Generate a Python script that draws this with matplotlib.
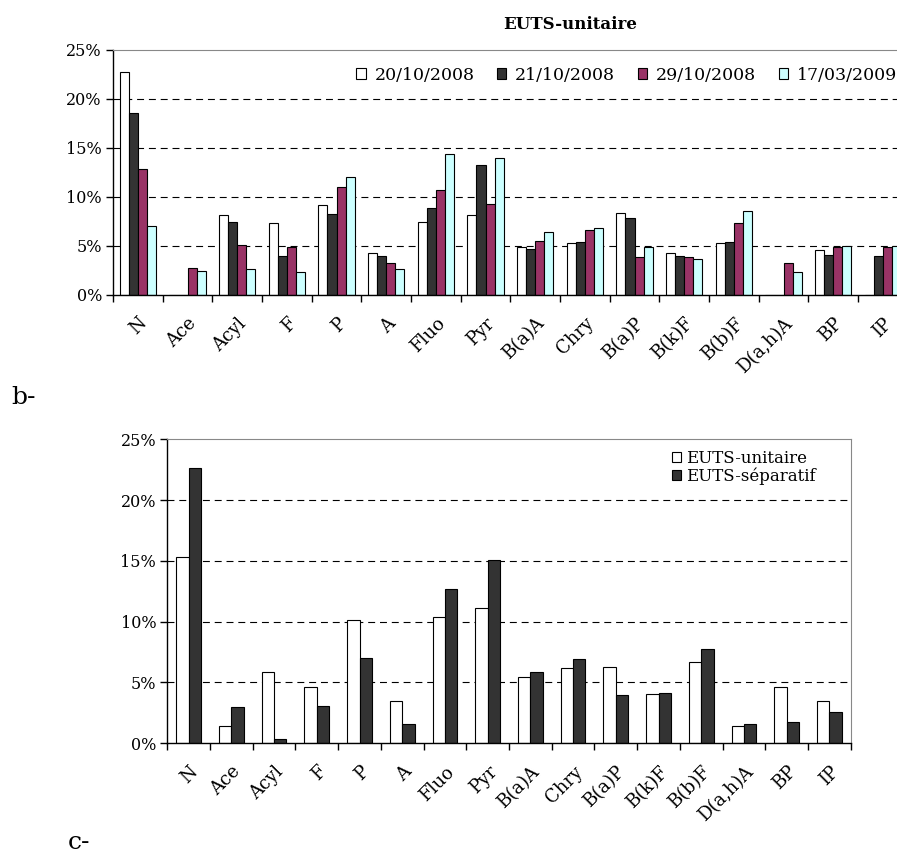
import numpy as np
import matplotlib
matplotlib.use("Agg")
import matplotlib.pyplot as plt
from matplotlib.patches import Patch

plt.rcParams['font.family'] = ['DejaVu Serif']
plt.rcParams['lines.scale_dashes'] = False

compounds = ["N", "Ace", "Acyl", "F", "P", "A", "Fluo", "Pyr", "B(a)A", "Chry",
             "B(a)P", "B(k)F", "B(b)F", "D(a,h)A", "BP", "IP"]

# b- : EUTS-unitaire, four sampling dates (%)
dates = ["20/10/2008", "21/10/2008", "29/10/2008", "17/03/2009"]
d_20_10_2008 = [22.8, 0, 8.2, 7.3, 9.2, 4.3, 7.4, 8.2, 4.85, 5.3, 8.4, 4.25, 5.3, 0, 4.6, 0]
d_21_10_2008 = [18.6, 0, 7.4, 4.0, 8.3, 4.0, 8.9, 13.3, 4.7, 5.4, 7.85, 4.0, 5.4, 0, 4.1, 4.0]
d_29_10_2008 = [12.9, 2.8, 5.15, 4.85, 11.0, 3.3, 10.75, 9.3, 5.55, 6.6, 3.85, 3.85, 7.3, 3.3, 4.85, 4.85]
d_17_03_2009 = [7.0, 2.4, 2.7, 2.3, 12.05, 2.6, 14.4, 14.0, 6.45, 6.85, 4.85, 3.7, 8.55, 2.3, 5.0, 5.0]

# c- : unitaire vs separatif (%)
networks = ["EUTS-unitaire", "EUTS-séparatif"]
unitaire = [15.3, 1.4, 5.9, 4.6, 10.15, 3.45, 10.35, 11.15, 5.45, 6.15, 6.25, 4.05, 6.7, 1.4, 4.65, 3.45]
separatif = [22.6, 3.0, 0.35, 3.1, 7.05, 1.6, 12.65, 15.1, 5.9, 6.9, 3.95, 4.15, 7.75, 1.6, 1.75, 2.55]

colors4 = ["#ffffff", "#333333", "#993366", "#ccffff"]
colors2 = ["#ffffff", "#333333"]

fig = plt.figure(figsize=(8.97, 8.56), dpi=100)


def style_axes(ax):
    x = np.arange(len(compounds))
    ax.set_xlim(-0.5, len(compounds) - 0.5)
    ax.set_ylim(0, 25)
    ax.set_yticks([0, 5, 10, 15, 20, 25])
    ax.set_yticklabels(["0%", "5%", "10%", "15%", "20%", "25%"], fontsize=11.5)
    ax.set_xticks(np.arange(len(compounds) + 1) - 0.5)
    ax.set_xticklabels([])
    ax.set_xticks(x, minor=True)
    ax.set_xticklabels(compounds, minor=True, rotation=45, ha="right",
                       rotation_mode="anchor", fontsize=13)
    ax.tick_params(axis="x", which="major", length=5, width=1, direction="out")
    ax.tick_params(axis="x", which="minor", length=0, pad=14)
    ax.tick_params(axis="y", length=5, width=1, direction="out", pad=3)
    for v in [5, 10, 15, 20]:
        ax.axhline(v, color="black", lw=0.8, ls=(0, (5, 3.5)), zorder=0)
    ax.spines["top"].set_color("#888888")
    ax.spines["right"].set_color("#888888")
    ax.spines["left"].set_linewidth(1)
    ax.spines["bottom"].set_linewidth(1)


# ---- chart b ----
ax1 = fig.add_axes([0.126, 0.6554, 0.886, 0.2862])
series4 = [d_20_10_2008, d_21_10_2008, d_29_10_2008, d_17_03_2009]
w = 0.183
x = np.arange(len(compounds))
for i, vals in enumerate(series4):
    ax1.bar(x + (i - 1.5) * w, vals, w, color=colors4[i], edgecolor="black",
            linewidth=0.8, zorder=2)
style_axes(ax1)
fig.text(0.636, 0.971, "EUTS-unitaire", ha="center", va="center",
         fontsize=12, fontweight="bold")
h4 = [Patch(facecolor=colors4[i], edgecolor="black", linewidth=0.8) for i in range(4)]
fig.legend(h4, dates, loc="center left", bbox_to_anchor=(0.397, 0.912), ncol=4,
           frameon=False, fontsize=12.5, handlelength=0.55, handleheight=0.55,
           handletextpad=0.5, columnspacing=1.3, borderpad=0, borderaxespad=0)
fig.text(0.013, 0.536, "b-", fontsize=18, va="center")

# ---- chart c ----
ax2 = fig.add_axes([0.1865, 0.1317, 0.7619, 0.3551])
w2 = 0.29
ax2.bar(x - w2 / 2, unitaire, w2, color=colors2[0], edgecolor="black", linewidth=0.8, zorder=2)
ax2.bar(x + w2 / 2, separatif, w2, color=colors2[1], edgecolor="black", linewidth=0.8, zorder=2)
style_axes(ax2)
h2 = [Patch(facecolor=colors2[i], edgecolor="black", linewidth=0.8) for i in range(2)]
fig.legend(h2, networks, loc="upper left", bbox_to_anchor=(0.749, 0.474), ncol=1,
           frameon=False, fontsize=12, handlelength=0.55, handleheight=0.55,
           handletextpad=0.3, labelspacing=0.0, borderpad=0, borderaxespad=0)
fig.text(0.075, 0.008, "c-", fontsize=18, va="baseline")

fig.savefig("out.png", dpi=100)
